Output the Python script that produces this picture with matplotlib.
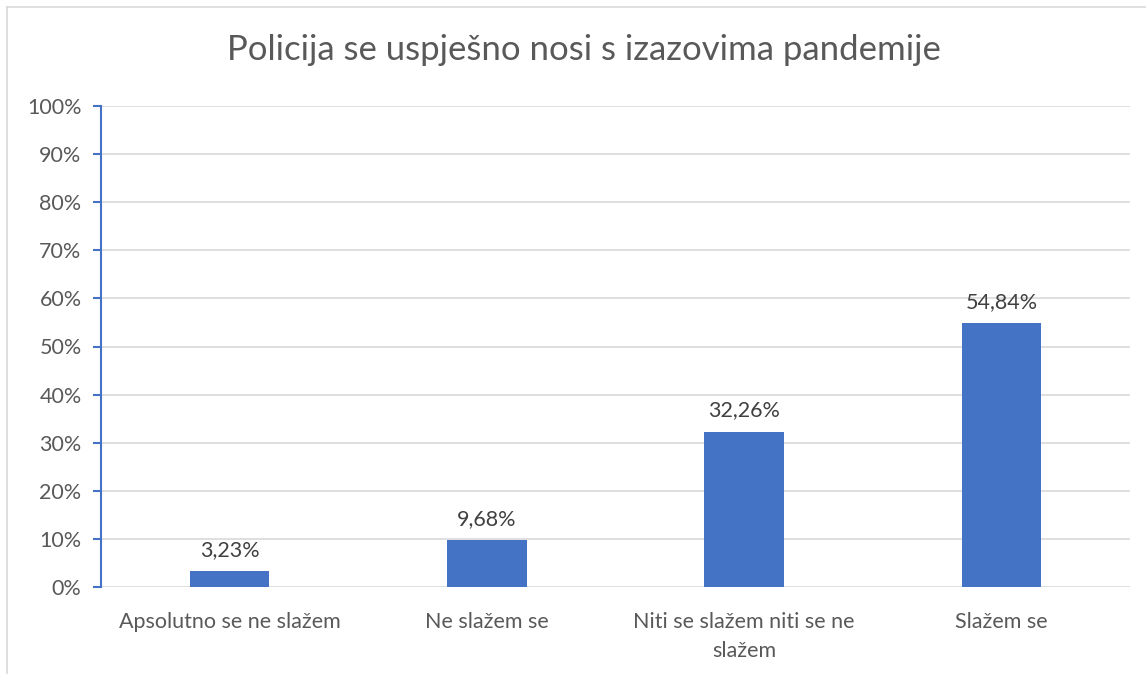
import matplotlib
matplotlib.use("Agg")
import matplotlib.pyplot as plt
from matplotlib.lines import Line2D

categories = ["Apsolutno se ne slažem", "Ne slažem se", "Niti se slažem niti se ne\nslažem", "Slažem se"]
values = [3.23, 9.68, 32.26, 54.84]
labels = ["3,23%", "9,68%", "32,26%", "54,84%"]
yticks = [0, 10, 20, 30, 40, 50, 60, 70, 80, 90, 100]
title = "Policija se uspješno nosi s izazovima pandemije"

plt.rcParams['font.family'] = ['Lato', 'DejaVu Sans']
TXT = '#595959'
BLUE = '#4472C4'

W, H = 1146, 674
fig = plt.figure(figsize=(W/100, H/100), dpi=100)
ax = fig.add_axes([101/W, 1-587/H, (1130-101)/W, (587-106)/H])

x = list(range(len(categories)))
ax.bar(x, values, width=0.31, color=BLUE, zorder=3)
for xi, v, l in zip(x, values, labels):
    ax.text(xi, v + 2.4, l, ha='center', va='bottom', fontsize=15.5, color='#404040')

ax.set_xlim(-0.5, 3.5)
ax.set_ylim(0, 100)
ax.set_yticks(yticks)
ax.set_yticklabels([f"{t}%" for t in yticks], fontsize=15.5, color=TXT)
ax.set_xticks(x)
ax.set_xticklabels(categories, fontsize=15.5, color=TXT, linespacing=1.55)
ax.tick_params(axis='x', length=0, pad=18)
ax.tick_params(axis='y', length=6, color=BLUE, width=1.5, pad=8)
ax.grid(axis='y', color='#D9D9D9', linewidth=1.2, zorder=0)
for s in ['top', 'right', 'bottom']:
    ax.spines[s].set_visible(False)
ax.spines['left'].set_color(BLUE)
ax.spines['left'].set_linewidth(1.5)

fig.text(584/W, 1-50/H, title, ha='center', va='center', fontsize=25, color=TXT)

fig.add_artist(Line2D([7/W, 1], [1-7/H, 1-7/H], transform=fig.transFigure, color='#D9D9D9', lw=1.2))
fig.add_artist(Line2D([7/W, 7/W], [0, 1-7/H], transform=fig.transFigure, color='#D9D9D9', lw=1.2))

fig.savefig("out.png", dpi=100, facecolor='white')
